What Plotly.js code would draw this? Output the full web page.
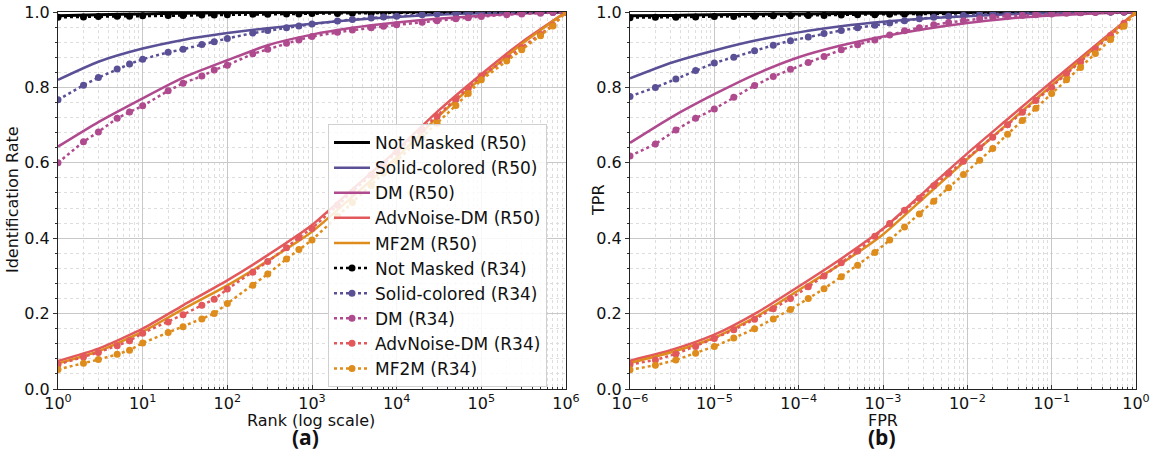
<!DOCTYPE html>
<html>
<head>
<meta charset="utf-8">
<script src="https://cdn.plot.ly/plotly-3.0.1.min.js"></script>
<style>html,body{margin:0;padding:0;background:#fff;}#chart{width:1154px;height:453px;}</style>
</head>
<body>
<div id="chart"></div>
<script>
// ---------- DATA ----------
const seriesNames = ["Not Masked", "Solid-colored", "DM", "AdvNoise-DM", "MF2M"];
const xTickLabelsRank = ["10<sup>0</sup>","10<sup>1</sup>","10<sup>2</sup>","10<sup>3</sup>","10<sup>4</sup>","10<sup>5</sup>","10<sup>6</sup>"];
const xTickLabelsFpr = ["10<sup>−6</sup>","10<sup>−5</sup>","10<sup>−4</sup>","10<sup>−3</sup>","10<sup>−2</sup>","10<sup>−1</sup>","10<sup>0</sup>"];
const yTickLabels = ["0.0","0.2","0.4","0.6","0.8","1.0"];

// (a) Identification rate vs rank
const rankR50 = [1, 3, 10, 30, 100, 300, 1000, 3000, 10000, 30000, 100000, 300000, 1000000];
const nmR50_rank    = [0.990,0.993,0.995,0.997,0.998,0.999,0.999,1.000,1.000,1.000,1.000,1.000,1.000];
const solidR50_rank = [0.820,0.868,0.903,0.926,0.944,0.957,0.969,0.979,0.987,0.993,0.997,0.999,1.000];
const dmR50_rank    = [0.643,0.708,0.771,0.826,0.872,0.912,0.940,0.958,0.972,0.982,0.990,0.996,1.000];
const advR50_rank   = [0.074,0.107,0.160,0.222,0.288,0.355,0.435,0.530,0.633,0.735,0.835,0.920,1.000];
const mf2mR50_rank  = [0.068,0.100,0.152,0.212,0.275,0.340,0.417,0.510,0.614,0.720,0.825,0.915,1.000];

const rankR34 = [1,2,3,5,7,10,20,30,50,70,100,200,300,500,700,1000,2000,3000,5000,7000,10000,20000,30000,50000,70000,100000,200000,300000,500000,700000,1000000];
const nmR34_rank    = [0.986,0.987,0.988,0.989,0.989,0.990,0.991,0.991,0.992,0.992,0.993,0.994,0.994,0.995,0.995,0.996,0.996,0.997,0.997,0.998,0.998,0.998,0.999,0.999,0.999,0.999,1,1,1,1,1];
const solidR34_rank = [0.767,0.806,0.826,0.849,0.862,0.875,0.893,0.901,0.914,0.921,0.930,0.944,0.951,0.958,0.963,0.968,0.976,0.980,0.984,0.987,0.989,0.993,0.995,0.996,0.997,0.998,0.999,0.999,1.0,1.0,1.0];
const dmR34_rank    = [0.600,0.656,0.682,0.718,0.735,0.751,0.791,0.811,0.830,0.846,0.859,0.889,0.901,0.917,0.926,0.935,0.946,0.952,0.958,0.962,0.966,0.973,0.977,0.982,0.985,0.988,0.993,0.995,0.997,0.999,1.0];
const advR34_rank   = [0.065,0.085,0.097,0.115,0.128,0.148,0.178,0.197,0.222,0.238,0.265,0.310,0.338,0.375,0.402,0.426,0.488,0.522,0.568,0.597,0.628,0.688,0.723,0.768,0.797,0.830,0.877,0.905,0.940,0.965,1.0];
const mf2mR34_rank  = [0.052,0.068,0.078,0.092,0.103,0.122,0.150,0.165,0.186,0.200,0.227,0.275,0.305,0.345,0.370,0.395,0.458,0.495,0.540,0.572,0.605,0.668,0.705,0.752,0.784,0.820,0.870,0.900,0.937,0.963,1.0];

// (b) TPR vs FPR
const fprR50 = [1e-6, 3.16e-6, 1e-5, 3.16e-5, 1e-4, 3.16e-4, 1e-3, 3.16e-3, 1e-2, 3.16e-2, 1e-1, 3.16e-1, 1];
const nmR50_fpr    = [0.990,0.991,0.993,0.994,0.995,0.996,0.997,0.998,0.999,0.999,1.000,1.000,1.000];
const solidR50_fpr = [0.824,0.866,0.898,0.925,0.946,0.962,0.974,0.983,0.989,0.994,0.997,0.999,1.000];
const dmR50_fpr    = [0.653,0.722,0.782,0.836,0.880,0.911,0.935,0.955,0.971,0.983,0.991,0.996,1.000];
const advR50_fpr   = [0.075,0.104,0.144,0.202,0.272,0.345,0.425,0.525,0.625,0.720,0.815,0.908,1.000];
const mf2mR50_fpr  = [0.069,0.098,0.136,0.192,0.262,0.332,0.410,0.510,0.610,0.708,0.805,0.903,1.000];

const fprR34 = [1e-6,2e-6,3.5e-6,6e-6,1e-5,1.7e-5,3e-5,5e-5,8e-5,1.3e-4,2e-4,3.2e-4,5e-4,8e-4,1.2e-3,1.8e-3,2.7e-3,4e-3,6e-3,9e-3,1.4e-2,2e-2,3e-2,4.5e-2,6.5e-2,0.1,0.15,0.22,0.33,0.5,0.72,1.0];
const nmR34_fpr    = [0.985,0.986,0.986,0.987,0.988,0.988,0.989,0.990,0.990,0.991,0.991,0.992,0.993,0.993,0.994,0.994,0.995,0.995,0.996,0.996,0.997,0.997,0.998,0.998,0.998,0.999,0.999,0.999,1,1,1,1];
const solidR34_fpr = [0.776,0.800,0.822,0.845,0.865,0.880,0.897,0.912,0.924,0.934,0.943,0.951,0.958,0.965,0.971,0.977,0.982,0.986,0.989,0.991,0.994,0.995,0.996,0.997,0.998,0.998,0.999,0.999,1,1,1,1];
const dmR34_fpr    = [0.618,0.650,0.687,0.718,0.743,0.774,0.805,0.829,0.848,0.866,0.882,0.900,0.913,0.926,0.939,0.950,0.958,0.966,0.972,0.977,0.982,0.986,0.989,0.991,0.993,0.995,0.997,0.998,0.999,1,1,1];
const advR34_fpr   = [0.065,0.077,0.093,0.113,0.134,0.157,0.185,0.213,0.240,0.271,0.300,0.335,0.366,0.405,0.439,0.474,0.506,0.539,0.572,0.604,0.640,0.668,0.701,0.734,0.765,0.800,0.836,0.867,0.902,0.938,0.970,1.0];
const mf2mR34_fpr  = [0.051,0.063,0.077,0.095,0.113,0.135,0.160,0.186,0.211,0.240,0.266,0.298,0.328,0.362,0.395,0.430,0.464,0.498,0.534,0.569,0.607,0.638,0.676,0.712,0.745,0.784,0.820,0.853,0.890,0.927,0.962,1.0];

// ---------- STYLE ----------
const colors = ["#000000", "#5a5096", "#b04a8e", "#e2585b", "#de8c1b"];
const FONT = "DejaVu Sans, sans-serif";

const r50Rank = [nmR50_rank, solidR50_rank, dmR50_rank, advR50_rank, mf2mR50_rank];
const r34Rank = [nmR34_rank, solidR34_rank, dmR34_rank, advR34_rank, mf2mR34_rank];
const r50Fpr = [nmR50_fpr, solidR50_fpr, dmR50_fpr, advR50_fpr, mf2mR50_fpr];
const r34Fpr = [nmR34_fpr, solidR34_fpr, dmR34_fpr, advR34_fpr, mf2mR34_fpr];

const traces = [];
function solid(x, y, i, xa, ya, show) {
  return {x: x, y: y, xaxis: xa, yaxis: ya, type: "scatter", mode: "lines",
    name: seriesNames[i] + " (R50)", showlegend: show,
    line: {color: colors[i], width: i === 0 ? 3 : 2.5, shape: "spline", smoothing: 0.6},
    hoverinfo: "skip"};
}
function dotted(x, y, i, xa, ya, show) {
  return {x: x, y: y, xaxis: xa, yaxis: ya, type: "scatter", mode: "lines+markers",
    name: seriesNames[i] + " (R34)", showlegend: show,
    line: {color: colors[i], width: 2.5, dash: "dot"},
    marker: {color: colors[i], size: 7},
    hoverinfo: "skip"};
}
for (let i = 0; i < 5; i++) traces.push(solid(rankR50, r50Rank[i], i, "x", "y", true));
for (let i = 0; i < 5; i++) traces.push(dotted(rankR34, r34Rank[i], i, "x", "y", true));
for (let i = 0; i < 5; i++) traces.push(solid(fprR50, r50Fpr[i], i, "x2", "y2", false));
for (let i = 0; i < 5; i++) traces.push(dotted(fprR34, r34Fpr[i], i, "x2", "y2", false));

// axis tick positions
const rankMajor = [], rankMinor = [], fprMajor = [], fprMinor = [];
for (let e = 0; e <= 6; e++) rankMajor.push(Math.pow(10, e));
for (let e = 0; e < 6; e++) for (let d = 2; d <= 9; d++) rankMinor.push(d * Math.pow(10, e));
for (let e = -6; e <= 0; e++) fprMajor.push(Math.pow(10, e));
for (let e = -6; e < 0; e++) for (let d = 2; d <= 9; d++) fprMinor.push(d * Math.pow(10, e));
const yMajor = [0, 0.2, 0.4, 0.6, 0.8, 1.0];
const yMinor = [];
for (let k = 1; k < 25; k++) if (k % 5 !== 0) yMinor.push(k * 0.04);

function xAxis(dom, range, tv, tt, minorVals, anchor) {
  return {type: "log", domain: dom, range: range, anchor: anchor,
    tickmode: "array", tickvals: tv, ticktext: tt,
    showgrid: true, gridcolor: "#c8c8c8", gridwidth: 1,
    minor: {tickmode: "array", tickvals: minorVals, showgrid: true, gridcolor: "#dedede", griddash: "dot", gridwidth: 1, ticks: "inside", ticklen: 2, tickcolor: "#333"},
    showline: true, linecolor: "#222", linewidth: 1, mirror: true,
    ticks: "inside", ticklen: 4, tickcolor: "#333",
    tickfont: {family: FONT, size: 16, color: "#111"}, zeroline: false};
}
function yAxis(dom, anchor) {
  return {domain: dom, range: [0, 1], anchor: anchor,
    tickmode: "array", tickvals: yMajor, ticktext: yTickLabels,
    showgrid: true, gridcolor: "#c8c8c8", gridwidth: 1,
    minor: {tickmode: "array", tickvals: yMinor, showgrid: true, gridcolor: "#dedede", griddash: "dot", gridwidth: 1, ticks: "outside", ticklen: 2, tickcolor: "#333"},
    showline: true, linecolor: "#222", linewidth: 1, mirror: true,
    ticks: "outside", ticklen: 4, tickcolor: "#333",
    tickfont: {family: FONT, size: 16, color: "#111"}, zeroline: false};
}

const W = 1154, H = 453;
const yDom = [(H - 389) / H, (H - 12) / H];
const layout = {
  width: W, height: H,
  margin: {l: 0, r: 0, t: 0, b: 0},
  paper_bgcolor: "#ffffff", plot_bgcolor: "#ffffff",
  font: {family: FONT, size: 16, color: "#111"},
  xaxis: xAxis([58 / W, 566 / W], [0, 6], rankMajor, xTickLabelsRank, rankMinor, "y"),
  yaxis: yAxis(yDom, "x"),
  xaxis2: xAxis([630 / W, 1136 / W], [-6, 0], fprMajor, xTickLabelsFpr, fprMinor, "y2"),
  yaxis2: yAxis(yDom, "x2"),
  legend: {x: 328 / W, y: (H - 124) / H, xanchor: "left", yanchor: "top",
    bgcolor: "rgba(255,255,255,0.85)", bordercolor: "#d0d0d0", borderwidth: 1,
    font: {family: FONT, size: 17, color: "#111"}, tracegroupgap: 0, itemwidth: 36},
  showlegend: true,
  annotations: [
    {text: "Identification Rate", xref: "paper", yref: "paper", x: 12 / W, y: (H - 200) / H, textangle: -90, showarrow: false, xanchor: "center", yanchor: "middle", font: {family: FONT, size: 16, color: "#111"}},
    {text: "Rank (log scale)", xref: "paper", yref: "paper", x: 311 / W, y: (H - 420) / H, showarrow: false, xanchor: "center", yanchor: "middle", font: {family: FONT, size: 16, color: "#111"}},
    {text: "<b>(a)</b>", xref: "paper", yref: "paper", x: 305 / W, y: (H - 437) / H, showarrow: false, xanchor: "center", yanchor: "middle", font: {family: "Open Sans, sans-serif", size: 21, color: "#111"}},
    {text: "TPR", xref: "paper", yref: "paper", x: 598 / W, y: (H - 200) / H, textangle: -90, showarrow: false, xanchor: "center", yanchor: "middle", font: {family: FONT, size: 16, color: "#111"}},
    {text: "FPR", xref: "paper", yref: "paper", x: 883 / W, y: (H - 420) / H, showarrow: false, xanchor: "center", yanchor: "middle", font: {family: FONT, size: 16, color: "#111"}},
    {text: "<b>(b)</b>", xref: "paper", yref: "paper", x: 882 / W, y: (H - 437) / H, showarrow: false, xanchor: "center", yanchor: "middle", font: {family: "Open Sans, sans-serif", size: 21, color: "#111"}}
  ]
};

Plotly.newPlot("chart", traces, layout, {displayModeBar: false, staticPlot: true});
</script>
</body>
</html>
